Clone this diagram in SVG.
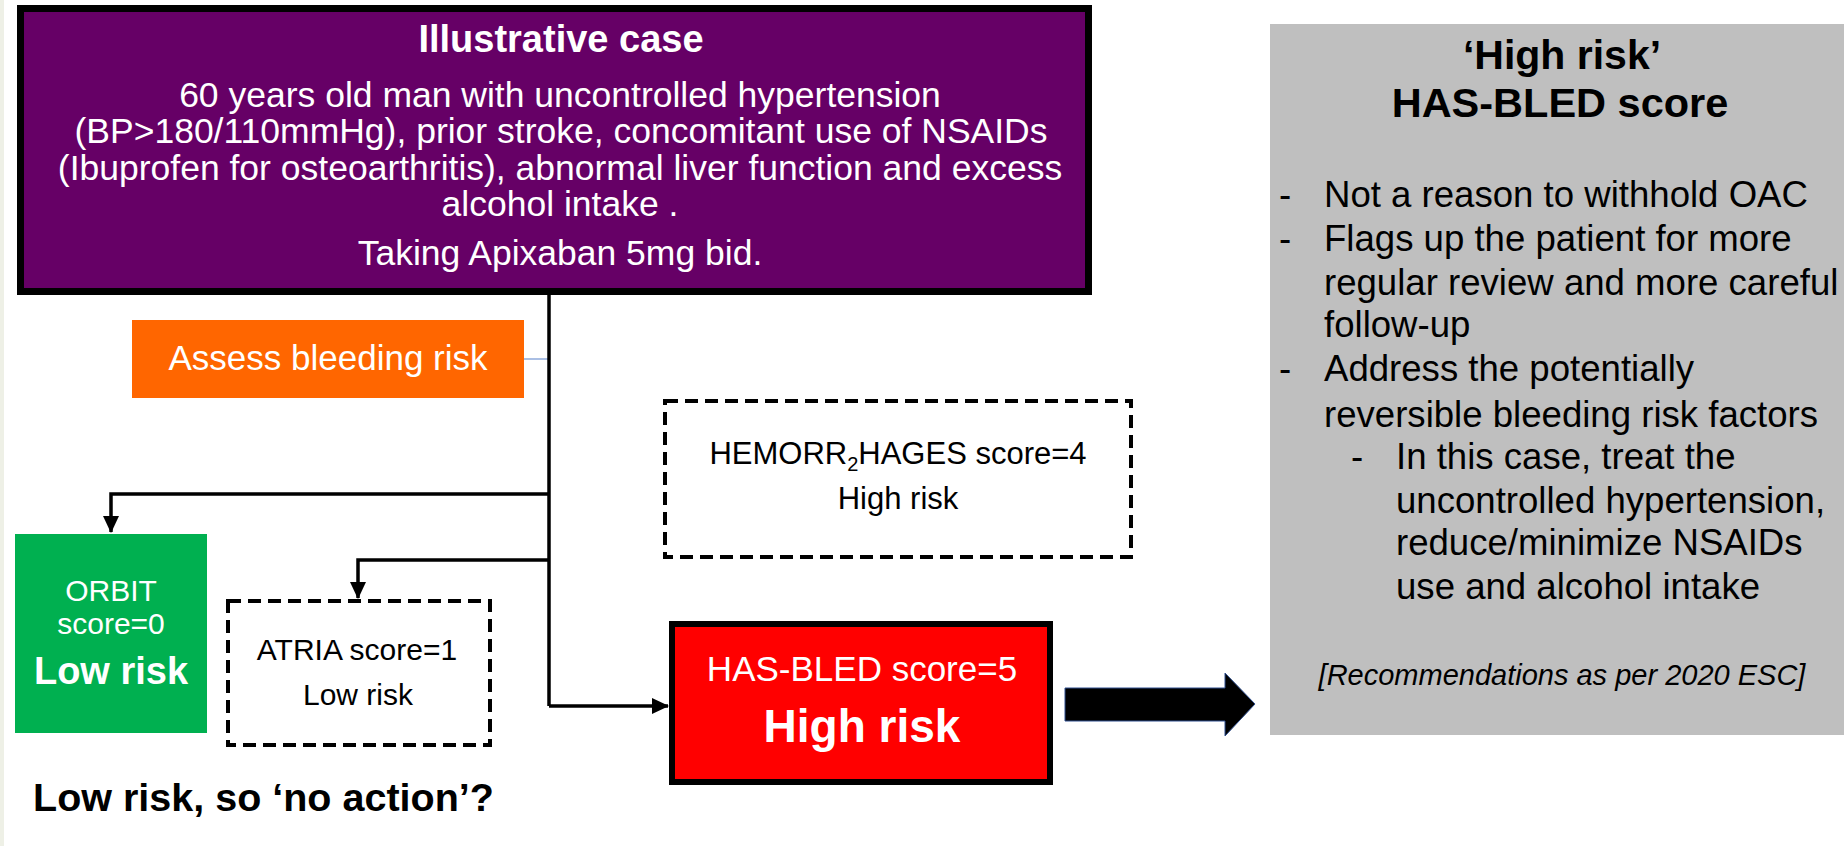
<svg xmlns="http://www.w3.org/2000/svg" width="1844" height="846" viewBox="0 0 1844 846">
<style>
text{font-family:"Liberation Sans",Arial,sans-serif}
.w{fill:#fff}
.k{fill:#000}
.c{text-anchor:middle}
.b{font-weight:bold}
.dash{fill:#fff;stroke:#000;stroke-width:4;stroke-dasharray:13 7}
.con{fill:none;stroke:#000;stroke-width:3.5}
</style>
<defs>
<marker id="ah" markerUnits="userSpaceOnUse" markerWidth="18" markerHeight="18" viewBox="0 0 18 18" refX="16" refY="9" orient="auto">
<path d="M0,1 L17,9 L0,17 Z" fill="#000"/>
</marker>
</defs>
<rect x="0" y="0" width="1844" height="846" fill="#fff"/>
<rect x="0" y="0" width="4" height="846" fill="#eef0e6"/>

<g id="connectors">
<line x1="524" y1="359" x2="549" y2="359" stroke="#8eaadb" stroke-width="1.5"/>
<path class="con" d="M549,295 V706"/>
<path class="con" d="M549,494 H111 V532" marker-end="url(#ah)"/>
<path class="con" d="M549,560 H358 V598" marker-end="url(#ah)"/>
<path class="con" d="M549,706 H668" marker-end="url(#ah)"/>
<polygon points="1065,688 1225,688 1225,673 1255,704 1225,736 1225,721 1065,721" fill="#000" stroke="#2f4f8f" stroke-width="1"/>
</g>

<g id="case">
<rect x="20.5" y="8.5" width="1068" height="283" fill="#660066" stroke="#000" stroke-width="7"/>
<text class="w c b" x="561" y="52" font-size="38">Illustrative case</text>
<text class="w c" x="560" y="107" font-size="35.5">60 years old man with uncontrolled hypertension</text>
<text class="w c" x="561" y="143" font-size="35.5">(BP&gt;180/110mmHg), prior stroke, concomitant use of NSAIDs</text>
<text class="w c" x="560" y="180" font-size="35.5">(Ibuprofen for osteoarthritis), abnormal liver function and excess</text>
<text class="w c" x="560" y="216" font-size="35.5">alcohol intake .</text>
<text class="w c" x="560" y="265" font-size="35.5">Taking Apixaban 5mg bid.</text>
</g>

<g id="assess">
<rect x="132" y="320" width="392" height="78" fill="#ff6600"/>
<text class="w c" x="328" y="370" font-size="35">Assess bleeding risk</text>
</g>

<g id="orbit">
<rect x="15" y="534" width="192" height="199" fill="#00b050"/>
<text class="w c" x="111" y="601" font-size="30">ORBIT</text>
<text class="w c" x="111" y="634" font-size="30">score=0</text>
<text class="w c b" x="111" y="684" font-size="38">Low risk</text>
</g>

<g id="atria">
<rect class="dash" x="228" y="601" width="262" height="144"/>
<text class="k c" x="357" y="660" font-size="30">ATRIA score=1</text>
<text class="k c" x="358" y="705" font-size="30">Low risk</text>
</g>

<g id="hemorr">
<rect class="dash" x="665" y="401" width="466" height="156"/>
<text class="k c" x="898" y="464" font-size="31">HEMORR<tspan font-size="20" dy="7">2</tspan><tspan dy="-7">HAGES score=4</tspan></text>
<text class="k c" x="898" y="509" font-size="31">High risk</text>
</g>

<g id="hasbled">
<rect x="672" y="624" width="378" height="158" fill="#ff0000" stroke="#000" stroke-width="6"/>
<text class="w c" x="862" y="681" font-size="35">HAS-BLED score=5</text>
<text class="w c b" x="862" y="742" font-size="46">High risk</text>
</g>

<g id="lowrisk-note">
<text class="k b" x="33" y="811" font-size="39.5">Low risk, so ‘no action’?</text>
</g>

<g id="recommendations">
<rect x="1270" y="24" width="574" height="711" fill="#bfbfbf"/>
<text class="k c b" x="1562" y="69" font-size="41">‘High risk’</text>
<text class="k c b" x="1560" y="117" font-size="41.5">HAS-BLED score</text>
<text class="k" font-size="36.6">
<tspan x="1279" y="207">-</tspan><tspan x="1324" y="207">Not a reason to withhold OAC</tspan>
<tspan x="1279" y="251">-</tspan><tspan x="1324" y="251">Flags up the patient for more</tspan>
<tspan x="1324" y="295">regular review and more careful</tspan>
<tspan x="1324" y="337">follow-up</tspan>
<tspan x="1279" y="381">-</tspan><tspan x="1324" y="381">Address the potentially</tspan>
<tspan x="1324" y="427">reversible bleeding risk factors</tspan>
<tspan x="1351" y="469">-</tspan><tspan x="1396" y="469">In this case, treat the</tspan>
<tspan x="1396" y="513">uncontrolled hypertension,</tspan>
<tspan x="1396" y="555">reduce/minimize NSAIDs</tspan>
<tspan x="1396" y="599">use and alcohol intake</tspan>
</text>
<text class="k c" x="1562" y="685" font-size="29" font-style="italic">[Recommendations as per 2020 ESC]</text>
</g>
</svg>
